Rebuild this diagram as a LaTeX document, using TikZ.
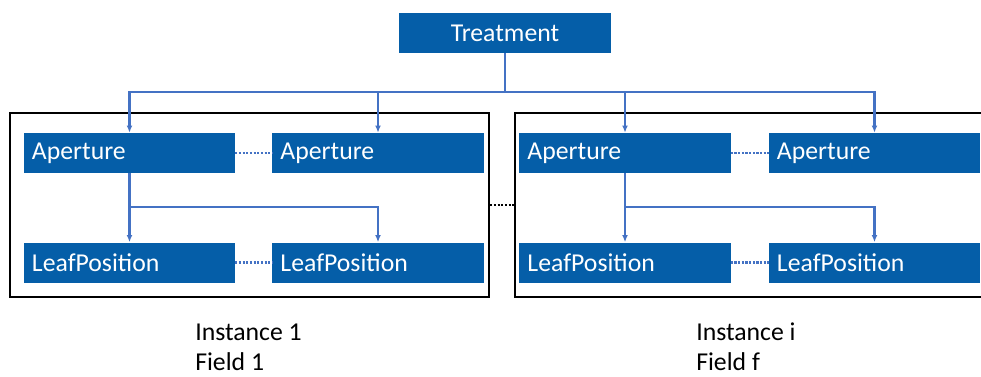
\documentclass[tikz,border=0pt]{standalone}
\usepackage{fontspec}
\setmainfont{Carlito}
\usepackage{tikz}
\usetikzlibrary{arrows.meta,calc}
\definecolor{blau}{HTML}{055EA8}
\definecolor{hblau}{HTML}{4472C4}
\definecolor{schwarz}{HTML}{000000}
\tikzset{
  kasten/.style={fill=blau,draw=none,text=white,minimum height=1cm,minimum width=5.275cm,
    inner xsep=0.2cm,text width=4.875cm,align=left,font=\fontsize{18.3pt}{21pt}\selectfont},
  kopf/.style={kasten,minimum width=5.3cm,text width=4.9cm,align=center},
  pfeil/.style={-{Latex[length=1.8mm,width=1.5mm]},hblau,line width=1.5pt},
  strang/.style={hblau,line width=1.5pt},
  punkte/.style={hblau,line width=1.5pt,dash pattern=on 1.5pt off 1.1pt},
  rahmen/.style={draw=schwarz,line width=1.8pt,minimum height=4.6cm,inner sep=0pt},
  beschr/.style={align=left,inner sep=0pt,anchor=west,font=\fontsize{18.3pt}{21.3pt}\selectfont},
}
\begin{document}
\begin{tikzpicture}[x=0.025cm,y=-0.025cm]
  \useasboundingbox (0,0) rectangle (981,376);
  % Rahmen
  \node[rahmen,minimum width=11.975cm] (inst1) at (249.5,205) {};
  \node[rahmen,minimum width=11.875cm] (inst2) at (752.5,205) {};
  \draw[schwarz,line width=1.5pt,dash pattern=on 1.5pt off 1.1pt] (inst1.east) -- (inst2.west);
  % Kopf
  \node[kopf] (treat) at (505,33) {Treatment};
  % Kaesten
  \node[kasten] (ap1) at (129.5,153) {Aperture};
  \node[kasten,minimum width=5.25cm] (ap2) at (378,153) {Aperture};
  \node[kasten] (lp1) at (129.5,262.5) {LeafPosition};
  \node[kasten,minimum width=5.25cm] (lp2) at (378,262.5) {LeafPosition};
  \node[kasten,minimum width=5.25cm] (ap3) at (625,153) {Aperture};
  \node[kasten] (ap4) at (874.5,153) {Aperture};
  \node[kasten,minimum width=5.25cm] (lp3) at (625,262.5) {LeafPosition};
  \node[kasten] (lp4) at (874.5,262.5) {LeafPosition};
  % Verteilung von oben
  \coordinate (hub) at (505,92);
  \draw[strang] (treat.south) -- (hub);
  \foreach \k in {ap1,ap2,ap3,ap4}
    \draw[pfeil] (hub) -| (\k.north);
  % Verzweigung je Instanz
  \coordinate (gabel1) at (129.5,207);
  \coordinate (gabel2) at (625,207);
  \draw[pfeil] (ap1.south) -- (lp1.north);
  \draw[pfeil] (gabel1) -| (lp2.north);
  \draw[pfeil] (ap3.south) -- (lp3.north);
  \draw[pfeil] (gabel2) -| (lp4.north);
  % gepunktete Verbindungen
  \draw[punkte] (ap1.east) -- (ap2.west);
  \draw[punkte] (lp1.east) -- (lp2.west);
  \draw[punkte] (ap3.east) -- (ap4.west);
  \draw[punkte] (lp3.east) -- (lp4.west);
  % Beschriftung
  \node[beschr] (lab1) at (195,347) {Instance 1\\Field 1};
  \node[beschr] (lab2) at (696,347) {Instance i\\Field f};
\end{tikzpicture}
\end{document}
